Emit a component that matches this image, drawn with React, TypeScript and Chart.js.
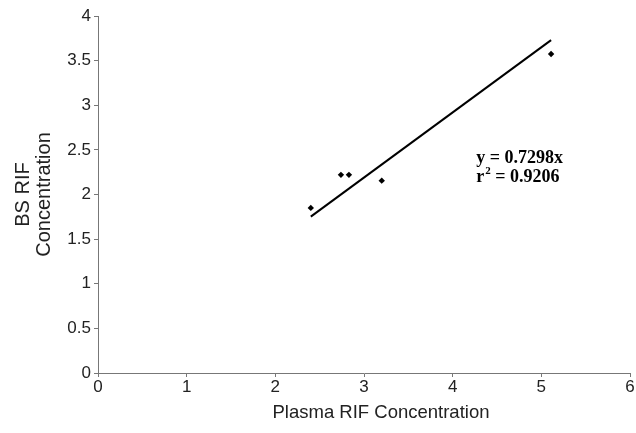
import React, { useEffect, useRef } from "react";
import { Chart, registerables } from "chart.js";

Chart.register(...registerables);

const plasmaRif: number[] = [2.4, 2.74, 2.83, 3.2, 5.11];
const bsRif: number[] = [1.85, 2.22, 2.22, 2.155, 3.575];
const slope = 0.7298;
const rSquared = "0.9206";
const trendX: number[] = [2.4, 5.11];
const xTicks: number[] = [0, 1, 2, 3, 4, 5, 6];
const yTicks: number[] = [0, 0.5, 1, 1.5, 2, 2.5, 3, 3.5, 4];
const xTitle = "Plasma RIF Concentration";
const yTitle = ["BS RIF", "Concentration"];

const textPlugin = {
  id: "textPlugin",
  afterDraw(chart: any) {
    const ctx = chart.ctx;
    const xs = chart.scales.x;
    const ys = chart.scales.y;
    ctx.save();
    // Equation annotation
    ctx.fillStyle = "#000";
    const big = "bold 18px 'Liberation Serif', 'Times New Roman', serif";
    ctx.font = big;
    ctx.textBaseline = "middle";
    ctx.textAlign = "left";
    const ax = xs.getPixelForValue(4.265);
    const ay1 = ys.getPixelForValue(2.41);
    const ay2 = ys.getPixelForValue(2.19);
    ctx.fillText("y = " + slope + "x", ax, ay1);
    ctx.fillText("r", ax, ay2);
    const rW = ctx.measureText("r").width;
    ctx.font = "bold 11px 'Liberation Serif', 'Times New Roman', serif";
    ctx.fillText("2", ax + rW + 1, ay2 - 6);
    const sW = ctx.measureText("2").width;
    ctx.font = big;
    ctx.fillText(" = " + rSquared, ax + rW + 1 + sW, ay2);
    // X axis title
    ctx.fillStyle = "#222";
    ctx.font = "18.5px 'Liberation Sans', Arial, sans-serif";
    ctx.textAlign = "center";
    ctx.fillText(xTitle, (xs.left + xs.right) / 2 + 17, 413);
    ctx.restore();
  },
};

export default function App() {
  const ref = useRef<HTMLCanvasElement | null>(null);
  useEffect(() => {
    document.body.style.margin = "0";
    const canvas = ref.current;
    if (!canvas) return;
    const chart = new Chart(canvas, {
      type: "scatter",
      data: {
        datasets: [
          {
            label: "data",
            data: plasmaRif.map((x, i) => ({ x, y: bsRif[i] })),
            pointStyle: "rectRot",
            pointRadius: 3.2,
            backgroundColor: "#000",
            borderColor: "#000",
            borderWidth: 0,
          },
          {
            label: "trend",
            type: "line",
            data: trendX.map((x) => ({ x, y: slope * x })),
            borderColor: "#000",
            borderWidth: 2,
            pointRadius: 0,
            fill: false,
          } as any,
        ],
      },
      options: {
        animation: false,
        responsive: false,
        layout: { padding: { top: 16, right: 6, left: 0, bottom: 0 } },
        plugins: {
          legend: { display: false },
          tooltip: { enabled: false },
        },
        scales: {
          x: {
            type: "linear",
            min: 0,
            max: 6,
            afterBuildTicks: (s: any) => {
              s.ticks = xTicks.map((v) => ({ value: v }));
            },
            afterFit: (s: any) => {
              s.height = 60;
            },
            ticks: {
              color: "#222",
              font: { size: 17, family: "'Liberation Sans', Arial, sans-serif" },
              padding: 0,
              maxRotation: 0,
              callback: (v: any) => String(v),
            },
            grid: {
              display: true,
              drawOnChartArea: false,
              drawTicks: true,
              tickLength: 4,
              color: "#777",
            },
            border: { display: true, color: "#777", width: 1 },
          },
          y: {
            type: "linear",
            min: 0,
            max: 4,
            afterBuildTicks: (s: any) => {
              s.ticks = yTicks.map((v) => ({ value: v }));
            },
            afterFit: (s: any) => {
              s.width = 98;
            },
            ticks: {
              color: "#222",
              font: { size: 17, family: "'Liberation Sans', Arial, sans-serif" },
              padding: 3,
              callback: (v: any) => String(v),
            },
            title: {
              display: true,
              text: yTitle,
              color: "#222",
              font: { size: 20, family: "'Liberation Sans', Arial, sans-serif", lineHeight: 1.05 },
              padding: { top: 13, bottom: 0 },
            },
            grid: {
              display: true,
              drawOnChartArea: false,
              drawTicks: true,
              tickLength: 4,
              color: "#777",
            },
            border: { display: true, color: "#777", width: 1 },
          },
        },
      },
      plugins: [textPlugin],
    });
    return () => chart.destroy();
  }, []);
  return (
    <div style={{ position: "absolute", left: 0, top: 0, width: 636, height: 433, background: "#fff" }}>
      <canvas ref={ref} width={636} height={433} />
    </div>
  );
}
